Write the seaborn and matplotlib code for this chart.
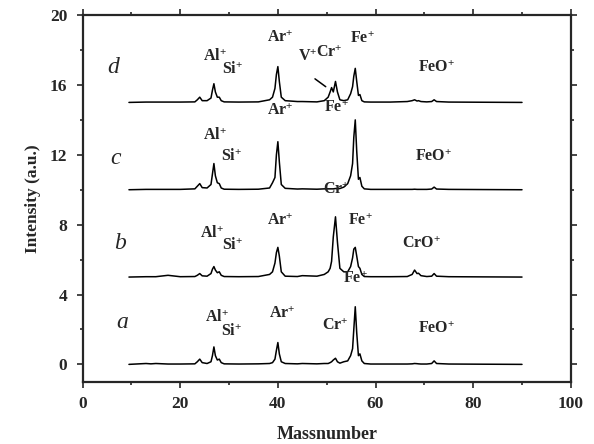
import numpy as np
import pandas as pd
import matplotlib
matplotlib.use("Agg")
import matplotlib.pyplot as plt
from matplotlib.ticker import MultipleLocator
import seaborn as sns

# mass axis shared by the four spectra
mass = [9.5, 13, 14, 15, 17.5, 20, 23, 23.5, 24, 24.5, 25.5, 26.3, 26.6, 26.9, 27.2, 27.6, 28.0, 28.4,
        29, 32, 36, 38.3, 38.9, 39.4, 39.7, 40.0, 40.3, 40.7, 41.5, 44, 45, 48, 49.5, 50.3, 50.7, 51.0,
        51.35, 51.8, 52.2, 52.7, 53.5, 54.3, 54.9, 55.3, 55.55, 55.85, 56.15, 56.5, 56.8, 57.2, 57.7, 59,
        63, 66.5, 67.5, 68.0, 68.5, 68.8, 69.3, 70.5, 71.5, 72.0, 72.5, 75, 82, 90]

int_a = [0, 0.05, 0.03, 0.05, 0.02, 0.02, 0.03, 0.15, 0.3, 0.1, 0.05, 0.15, 0.5, 1.0, 0.5, 0.25, 0.3, 0.1,
         0.03, 0.02, 0.03, 0.05, 0.1, 0.3, 0.8, 1.25, 0.6, 0.15, 0.05, 0.03, 0.05, 0.03, 0.05, 0.05, 0.1, 0.15,
         0.25, 0.35, 0.15, 0.07, 0.15, 0.2, 0.5, 0.9, 2.0, 3.3, 1.8, 0.5, 0.6, 0.2, 0.05, 0.02,
         0.02, 0.02, 0.03, 0.05, 0.04, 0.03, 0.02, 0.02, 0.05, 0.2, 0.05, 0.02, 0.01, 0]
int_b = [0, 0.02, 0.02, 0.02, 0.1, 0.02, 0.03, 0.1, 0.2, 0.07, 0.05, 0.2, 0.45, 0.6, 0.4, 0.25, 0.3, 0.1,
         0.03, 0.02, 0.03, 0.15, 0.3, 0.8, 1.4, 1.7, 1.2, 0.3, 0.05, 0.03, 0.08, 0.05, 0.15, 0.3, 0.5, 0.9,
         2.3, 3.45, 2.0, 0.5, 0.3, 0.3, 0.6, 1.1, 1.6, 1.7, 1.2, 0.6, 0.5, 0.15, 0.03, 0.02,
         0.02, 0.03, 0.15, 0.4, 0.2, 0.22, 0.08, 0.03, 0.05, 0.2, 0.05, 0.02, 0.01, 0]
int_c = [0, 0.02, 0.02, 0.02, 0.02, 0.02, 0.05, 0.2, 0.35, 0.12, 0.1, 0.3, 0.9, 1.5, 0.8, 0.4, 0.35, 0.1,
         0.03, 0.02, 0.03, 0.1, 0.4, 0.7, 2.0, 2.75, 1.6, 0.3, 0.08, 0.04, 0.05, 0.03, 0.05, 0.05, 0.05, 0.05,
         0.05, 0.07, 0.05, 0.07, 0.15, 0.35, 0.8, 1.5, 3.0, 4.0, 2.2, 0.6, 0.7, 0.2, 0.05, 0.02,
         0.02, 0.02, 0.02, 0.03, 0.02, 0.02, 0.02, 0.02, 0.04, 0.15, 0.04, 0.02, 0.01, 0]
int_d = [0, 0.02, 0.02, 0.02, 0.02, 0.02, 0.03, 0.15, 0.3, 0.1, 0.1, 0.25, 0.7, 1.07, 0.6, 0.3, 0.3, 0.1,
         0.03, 0.02, 0.03, 0.15, 0.3, 0.8, 1.6, 2.05, 1.2, 0.3, 0.1, 0.05, 0.05, 0.03, 0.1, 0.3, 0.6, 0.85,
         0.6, 1.2, 0.6, 0.15, 0.1, 0.15, 0.5, 0.9, 1.5, 1.95, 1.2, 0.4, 0.45, 0.1, 0.03, 0.02,
         0.02, 0.05, 0.1, 0.15, 0.08, 0.1, 0.05, 0.03, 0.05, 0.15, 0.05, 0.02, 0.01, 0]

samples = ["a", "b", "c", "d"]
offsets = [0, 5, 10, 15]
spectra = [int_a, int_b, int_c, int_d]

frames = []
for s, off, y in zip(samples, offsets, spectra):
    frames.append(pd.DataFrame({"mass": mass, "intensity": np.array(y) + off, "sample": s}))
df = pd.concat(frames, ignore_index=True)

# peak labels: (ion, x, y)
labels = [
    ("Al", 27.5, 2.7), ("Si", 30.5, 1.85), ("Ar", 40.8, 2.9), ("Cr", 51.7, 2.2), ("FeO", 72.5, 2.05),
    ("Al", 26.4, 7.5), ("Si", 30.8, 6.8), ("Ar", 40.4, 8.25), ("Fe", 56.8, 8.25),
    ("CrO", 69.4, 6.9), ("Fe", 55.8, 4.9),
    ("Al", 27.1, 13.1), ("Si", 30.5, 11.9), ("FeO", 71.8, 11.9), ("Cr", 52.0, 10.0), ("Ar", 40.4, 14.5),
    ("Al", 27.1, 17.6), ("Si", 30.8, 16.85), ("Ar", 40.4, 18.7), ("V", 46.2, 17.6),
    ("Cr", 50.6, 17.85), ("Fe", 57.3, 18.65), ("Fe", 52.0, 14.7), ("FeO", 72.5, 17.0),
]
sample_pos = [(8.1, 2.4), (7.7, 6.9), (6.7, 11.8), (6.2, 17.0)]

sns.set_style("ticks")
plt.rcParams["font.family"] = ["Liberation Serif", "DejaVu Serif"]
plt.rcParams["font.weight"] = "bold"
plt.rcParams["mathtext.fontset"] = "custom"
plt.rcParams["mathtext.rm"] = "Liberation Serif:bold"
plt.rcParams["mathtext.bf"] = "Liberation Serif:bold"
plt.rcParams["mathtext.default"] = "rm"

fig = plt.figure(figsize=(5.94, 4.44), dpi=100)
ax = fig.add_axes([0.139, 0.140, 0.822, 0.826])

sns.lineplot(data=df, x="mass", y="intensity", hue="sample", palette=["black"] * 4,
             legend=False, linewidth=1.1, ax=ax, estimator=None, sort=False)

for ion, x, y in labels:
    ax.text(x, y, r"$\mathrm{%s}^{+}$" % ion, fontsize=11.5, ha="center", va="center")
for s, (x, y) in zip(samples, sample_pos):
    ax.text(x, y, s, fontsize=17, fontstyle="italic", fontweight="normal", ha="center", va="center")
ax.plot([47.6, 49.8], [16.35, 15.9], color="black", linewidth=1.1)

ax.set_xlim(0, 100)
ax.set_ylim(-1, 20)
ax.xaxis.set_major_locator(MultipleLocator(20))
ax.xaxis.set_minor_locator(MultipleLocator(10))
ax.yaxis.set_major_locator(MultipleLocator(4))
ax.yaxis.set_minor_locator(MultipleLocator(2))
ax.tick_params(which="both", direction="out", top=True, right=True, width=1.2, labelsize=12.5)
ax.tick_params(which="major", length=4)
ax.tick_params(which="minor", length=2.5)
ax.tick_params(axis="y", which="major", pad=7)
ax.tick_params(axis="x", which="major", pad=6)
for sp in ax.spines.values():
    sp.set_linewidth(1.6)
ax.set_xlabel("Massnumber", fontsize=13, fontweight="bold", labelpad=10)
ax.set_ylabel("Intensity (a.u.)", fontsize=12.5, fontweight="bold", labelpad=6)

fig.savefig("out.png", dpi=100)
